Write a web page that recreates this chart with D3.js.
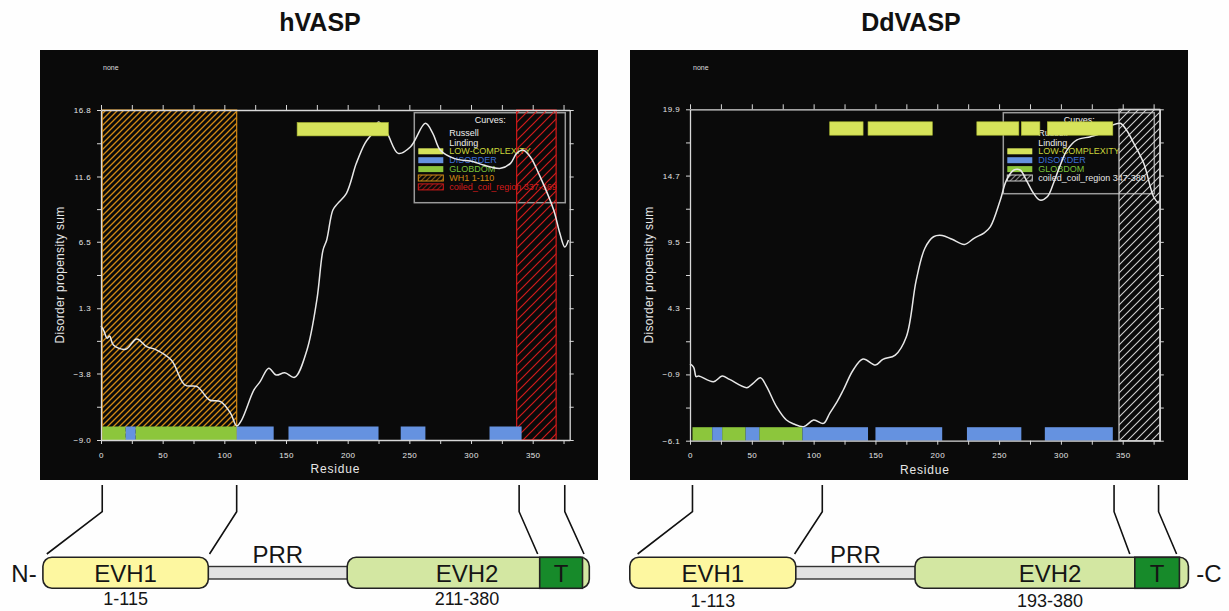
<!DOCTYPE html>
<html><head><meta charset="utf-8">
<script src="https://cdn.jsdelivr.net/npm/d3@7"></script>
<style>body{margin:0;background:#fff;} svg{display:block;}</style>
</head><body><svg id="c" width="1229" height="611"></svg>
<script>
// ---------- DATA ----------
const titles = ["hVASP", "DdVASP"];
const xTicks = [0, 25, 50, 75, 100, 125, 150, 175, 200, 225, 250, 275, 300, 325, 350, 375];
const hYTicks = [-9.0, -3.8, 1.3, 6.5, 11.6, 16.8];
const dYTicks = [-6.1, -0.9, 4.3, 9.5, 14.7, 19.9];

const hResidue = [0,2,5,7,10,20,29,37,44,57,68,78,88,97,105,110,114,124,129,136,142,149,157,167,175,180,183,188,192,199,207,214,220,225,232,241,251,263,269,275,286,302,310,324,332,337,342,348,356,367,372,376,379];
const hScore = [-0.1,-0.4,-1.05,-0.87,-1.57,-1.91,-1.1,-1.7,-1.91,-2.75,-4.7,-4.83,-5.87,-6.0,-6.9,-7.9,-7.44,-5.09,-4.44,-3.39,-3.92,-3.74,-4.1,-1.96,1.95,5.85,6.64,8.98,9.5,10.29,12.63,14.2,14.98,15.86,14.98,13.41,13.93,15.76,14.98,13.67,13.02,12.76,12.5,12.24,12.63,13.41,13.67,13.15,11.59,8.98,7.16,6.09,6.64];

const dResidue = [0,3,5,7,19,26,32,46,51,57,62,70,78,84,92,100,108,113,119,124,132,140,150,156,166,175,183,190,197,204,212,222,230,238,243,251,256,262,267,272,278,283,289,294,299,305,313,324,332,342,348,353,359,367,375,379];
const dScore = [-0.08,-0.34,-1.08,-1.02,-1.47,-1.03,-1.29,-1.94,-1.6,-1.16,-1.86,-3.43,-4.48,-4.79,-5.0,-4.48,-4.74,-3.95,-3.04,-2.12,-0.55,0.31,-0.16,0.28,0.62,2.06,6.5,9.0,9.9,10.0,9.7,9.3,9.8,10.2,10.69,12.78,14.35,15.14,15.14,14.35,13.3,12.78,13.04,14.1,15.4,16.7,17.5,17.75,18.0,18.67,18.8,18.28,17.23,15.66,13.04,12.52];

const hGlobdom = [[1,20],[28,110]];
const hDisorder = [[20,28],[110,140],[152,225],[243,263],[315,341]];
const hLowComplexity = [[159,233]];
const hWH1 = [1,110];
const hCoiled = [337,369];

const dGlobdom = [[2,18],[26,45],[56,91]];
const dDisorder = [[18,26],[45,56],[91,144],[150,204],[224,268],[287,342]];
const dLowComplexity = [[113,140],[144,196],[232,266],[268,283],[289,342]];
const dCoiled = [347,380];

const hLegend = ["LOW-COMPLEXITY","DISORDER","GLOBDOM","WH1 1-110","coiled_coil_region 337-369"];
const dLegend = ["LOW-COMPLEXITY","DISORDER","GLOBDOM","coiled_coil_region 347-380"];
const curveNames = ["Russell","Linding"];

// ---------- DRAW ----------
const FONT = "'Liberation Sans', Arial, sans-serif";
const C = {bg:"#0a0a0a", axis:"#d8d8d8", yellow:"#d6e35a", blue:"#6592e0", green:"#8cc63c",
  yellowT:"#c9d43a", blueT:"#3b6fd6", greenT:"#79c23a", orange:"#d38a14", red:"#d21a1a", white:"#d0d0d0"};

const svg = d3.select('#c');
svg.append('rect').attr('width',1229).attr('height',611).attr('fill','#fefefe');
const defs = svg.append('defs');
function hatch(id, color, s, sw){
  const p = defs.append('pattern').attr('id',id).attr('patternUnits','userSpaceOnUse')
    .attr('width',s).attr('height',s);
  p.append('path').attr('d',`M${-s/4},${s/4} l${s/2},${-s/2} M0,${s} L${s},0 M${s*0.75},${s*1.25} l${s/2},${-s/2}`)
    .attr('stroke',color).attr('stroke-width',sw).attr('fill','none');
}
hatch('patOrange', C.orange, 6, 1.3);
hatch('patRed', C.red, 9, 1.2);
hatch('patWhite', C.white, 8, 1.1);
hatch('patOrangeS', C.orange, 5, 1);
hatch('patRedS', C.red, 5, 1);
hatch('patWhiteS', C.white, 5, 1);

function panel(cfg){
  const g = svg.append('g');
  g.append('rect').attr('x',cfg.bg[0]).attr('y',cfg.bg[1]).attr('width',cfg.bg[2]).attr('height',cfg.bg[3]).attr('fill',C.bg);
  svg.append('text').attr('x',cfg.titleX).attr('y',31).attr('text-anchor','middle')
    .attr('font-family',FONT).attr('font-weight','bold').attr('font-size',25).attr('fill','#111').text(cfg.title);

  const x = d3.scaleLinear().domain([0,380]).range(cfg.xr);
  const y = d3.scaleLinear().domain([cfg.yTicks[0], cfg.yTicks[cfg.yTicks.length-1]]).range(cfg.yr);
  const [y0, y1] = cfg.yr;

  g.append('text').attr('x',cfg.bg[0]+63).attr('y',cfg.bg[1]+20).attr('fill','#dddddd')
    .attr('font-family',FONT).attr('font-size',7).text('none');

  // legend
  const lg = g.append('g').attr('transform',`translate(${cfg.legXY[0]},${cfg.legXY[1]})`);
  const n = cfg.legend.length;
  lg.append('rect').attr('x',0).attr('y',0).attr('width',151).attr('height',45+n*9)
    .attr('fill','none').attr('stroke','#9a9a9a').attr('stroke-width',1.5);
  lg.append('text').attr('x',76).attr('y',10).attr('text-anchor','middle').attr('fill','#eee')
    .attr('font-family',FONT).attr('font-size',9).text('Curves:');
  curveNames.forEach((t,i)=> lg.append('text').attr('x',35).attr('y',23.5+i*9.4).attr('fill','#eee')
    .attr('font-family',FONT).attr('font-size',9).text(t));
  cfg.legend.forEach((t,i)=>{
    const st = cfg.legStyle[i];
    const yy = 35.6 + i*8.9;
    const r = lg.append('rect').attr('x',4).attr('y',yy).attr('width',25).attr('height',6);
    if (st.hatch) r.attr('fill',`url(#${st.hatch})`).attr('stroke',st.color).attr('stroke-width',1);
    else r.attr('fill',st.color);
    lg.append('text').attr('x',35).attr('y',yy+6.2).attr('fill',st.text)
      .attr('font-family',FONT).attr('font-size',9).text(t);
  });

  // hatched regions
  cfg.regions.forEach(rg=>{
    g.append('rect').attr('x',x(rg.r[0])).attr('y',y1).attr('width',x(rg.r[1])-x(rg.r[0])).attr('height',y0-y1)
      .attr('fill',`url(#${rg.pat})`).attr('stroke',rg.color).attr('stroke-width',1.2);
  });

  // curve
  const pts = cfg.res.map((r,i)=>[r,cfg.score[i]]);
  g.append('path').datum(pts).attr('fill','none').attr('stroke','#e8e8e8').attr('stroke-width',1.5)
    .attr('d', d3.line().x(d=>x(d[0])).y(d=>y(d[1])).curve(d3.curveCatmullRom.alpha(0.5)));

  // top bars
  g.selectAll(null).data(cfg.low).join('rect')
    .attr('x',d=>x(d[0])).attr('width',d=>x(d[1])-x(d[0])).attr('y',y1+12.5).attr('height',13.4)
    .attr('fill',C.yellow).attr('stroke','#aab830').attr('stroke-width',0.6);
  // bottom bars
  g.selectAll(null).data(cfg.glob).join('rect')
    .attr('x',d=>x(d[0])).attr('width',d=>x(d[1])-x(d[0])).attr('y',y0-13.5).attr('height',13.5)
    .attr('fill',C.green);
  g.selectAll(null).data(cfg.dis).join('rect')
    .attr('x',d=>x(d[0])).attr('width',d=>x(d[1])-x(d[0])).attr('y',y0-13.5).attr('height',13.5)
    .attr('fill',C.blue);

  // axes
  const minor = cfg.yTicks.slice(0,-1).map((v,i)=>(v+cfg.yTicks[i+1])/2);
  const yAll = cfg.yTicks.concat(minor);
  const style = a => { a.select('.domain').attr('stroke',C.axis).attr('stroke-width',1.3);
    a.selectAll('.tick line').attr('stroke',C.axis).attr('stroke-width',1);
    a.selectAll('text').attr('fill','#e6e6e6').attr('font-family',FONT).attr('font-size',8).attr('letter-spacing',0.4); };
  g.append('g').attr('transform',`translate(0,${y0})`)
    .call(d3.axisBottom(x).tickValues(xTicks).tickSize(4).tickSizeOuter(0).tickPadding(8)
      .tickFormat(d=> d%50===0 ? d : '')).call(style);
  g.append('g').attr('transform',`translate(0,${y1})`)
    .call(d3.axisTop(x).tickValues(xTicks).tickSize(5).tickSizeOuter(0).tickFormat('')).call(style);
  g.append('g').attr('transform',`translate(${cfg.xr[0]},0)`)
    .call(d3.axisLeft(y).tickValues(yAll).tickSize(4).tickSizeOuter(0).tickPadding(6)
      .tickFormat(d=> cfg.yTicks.includes(d) ? d3.format('.1f')(d) : '')).call(style);
  g.append('g').attr('transform',`translate(${cfg.xr[1]},0)`)
    .call(d3.axisRight(y).tickValues(yAll).tickSize(4).tickSizeOuter(0).tickFormat('')).call(style);

  g.append('text').attr('x',(cfg.xr[0]+cfg.xr[1])/2).attr('y',y0+33).attr('text-anchor','middle')
    .attr('fill','#e6e6e6').attr('font-family',FONT).attr('font-size',12).attr('letter-spacing',0.8).text('Residue');
  g.append('text').attr('transform',`translate(${cfg.xr[0]-37},${(y0+y1)/2}) rotate(-90)`).attr('text-anchor','middle')
    .attr('fill','#e6e6e6').attr('font-family',FONT).attr('font-size',12).attr('letter-spacing',0.3).text('Disorder propensity sum');
  return x;
}

const xh = panel({bg:[40,50,558,430], title:titles[0], titleX:320, xr:[101,569.7], yr:[440,110], yTicks:hYTicks,
  res:hResidue, score:hScore, low:hLowComplexity, glob:hGlobdom, dis:hDisorder,
  regions:[{r:hWH1,pat:'patOrange',color:C.orange},{r:hCoiled,pat:'patRed',color:C.red}],
  legXY:[414.3,112.7], legend:hLegend,
  legStyle:[{color:C.yellow,text:C.yellowT},{color:C.blue,text:C.blueT},{color:C.green,text:C.greenT},
    {hatch:'patOrangeS',color:C.orange,text:C.orange},{hatch:'patRedS',color:C.red,text:C.red}]});
const xd = panel({bg:[630,50,558,430], title:titles[1], titleX:911, xr:[690,1159.8], yr:[440.7,109.3], yTicks:dYTicks,
  res:dResidue, score:dScore, low:dLowComplexity, glob:dGlobdom, dis:dDisorder,
  regions:[{r:dCoiled,pat:'patWhite',color:C.white}],
  legXY:[1003.3,112.7], legend:dLegend,
  legStyle:[{color:C.yellow,text:C.yellowT},{color:C.blue,text:C.blueT},{color:C.green,text:C.greenT},
    {hatch:'patWhiteS',color:C.white,text:'#e6e6e6'}]});

// ---------- DOMAIN DIAGRAMS ----------
const dg = svg.append('g');
function diagram(o){
  o.links.forEach(l=> dg.append('path').attr('d',`M${l[0]},485 L${l[0]},511.7 L${l[1]},554`)
    .attr('fill','none').attr('stroke','#111').attr('stroke-width',1.6));
  dg.append('rect').attr('x',o.prr[0]-4).attr('y',566.5).attr('width',o.prr[1]-o.prr[0]+8).attr('height',12.5)
    .attr('fill','#e2e2e2').attr('stroke','#333').attr('stroke-width',1.4);
  dg.append('rect').attr('x',o.evh1[0]).attr('y',557.3).attr('width',o.evh1[1]-o.evh1[0]).attr('height',31)
    .attr('rx',9).attr('fill','#fdf7a0').attr('stroke','#222').attr('stroke-width',1.6);
  dg.append('rect').attr('x',o.evh2[0]).attr('y',557.3).attr('width',o.evh2[1]-o.evh2[0]).attr('height',31)
    .attr('rx',9).attr('fill','#d3e7a2').attr('stroke','#222').attr('stroke-width',1.6);
  dg.append('rect').attr('x',o.t[0]).attr('y',557.3).attr('width',o.t[1]-o.t[0]).attr('height',31)
    .attr('fill','#178a2a').attr('stroke','#222').attr('stroke-width',1.6);
  const txt = (x,y,s,t)=> dg.append('text').attr('x',x).attr('y',y).attr('text-anchor','middle')
    .attr('font-family',FONT).attr('font-size',s).attr('fill','#151515').text(t);
  txt((o.evh1[0]+o.evh1[1])/2, 582, 24, 'EVH1');
  txt(o.evh2Label, 582, 24, 'EVH2');
  txt((o.t[0]+o.t[1])/2, 582, 24, 'T');
  txt((o.prr[0]+o.prr[1])/2, 563, 24, 'PRR');
  txt((o.evh1[0]+o.evh1[1])/2, o.numY, 18, o.n1);
  txt(o.evh2Label, o.numY, 18, o.n2);
  if (o.end) txt(o.end[0], 582, 24, o.end[1]);
}
diagram({links:[[xh(1),46.8],[xh(110),209.5],[xh(339),537.7],[xh(376),584]],
  evh1:[42.9,208.3], prr:[208.3,347.2], evh2:[347.2,589.3], t:[539.7,582.5], evh2Label:467,
  n1:'1-115', n2:'211-380', numY:605, end:[24,'N-']});
diagram({links:[[xd(2),637.6],[xd(107),794.6],[xd(343),1129.8],[xd(379),1176.6]],
  evh1:[629.8,795.8], prr:[795.8,915], evh2:[915,1188.4], t:[1134.8,1179.4], evh2Label:1050,
  n1:'1-113', n2:'193-380', numY:607, end:[1209,'-C']});
</script></body></html>
